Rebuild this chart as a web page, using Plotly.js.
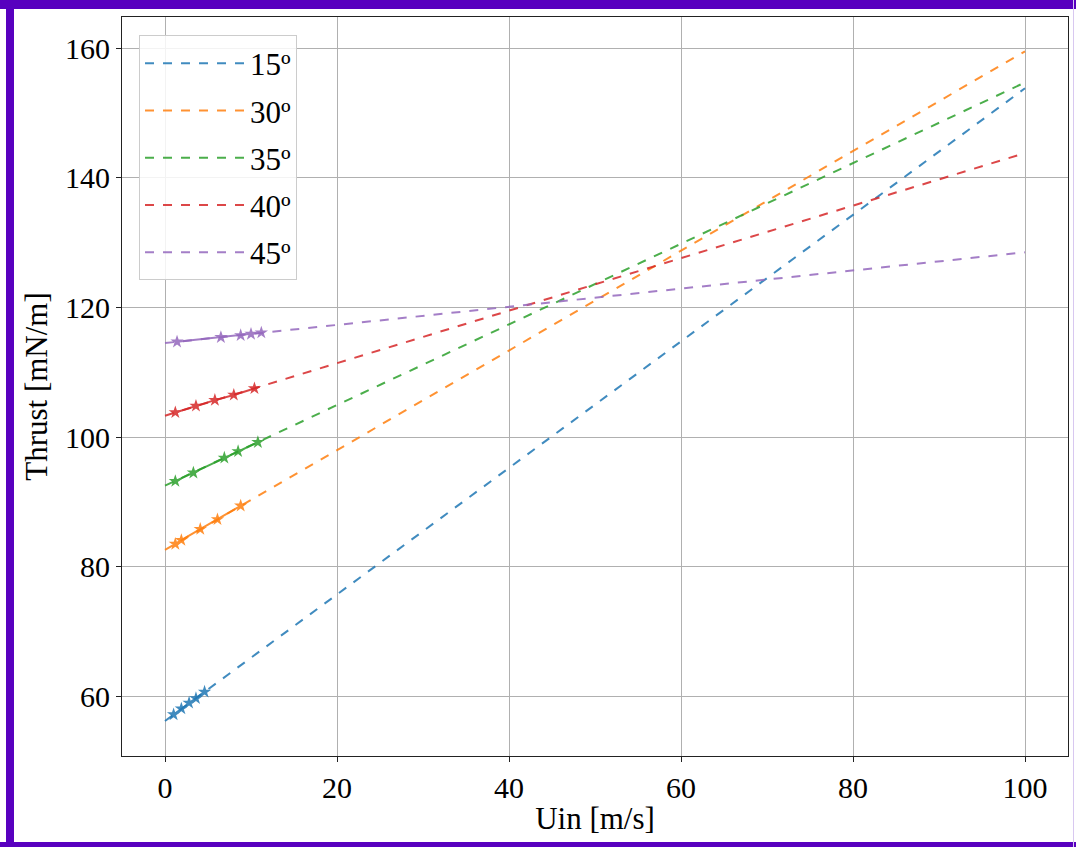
<!DOCTYPE html>
<html>
<head>
<meta charset="utf-8">
<script src="https://cdn.plot.ly/plotly-3.0.1.min.js"></script>
<style>
html,body{margin:0;padding:0;background:#fff;}
#wrap{position:relative;width:1076px;height:847px;overflow:hidden;}
#chart{position:absolute;left:0;top:0;width:1076px;height:847px;}
.bd{position:absolute;background:#5800bf;pointer-events:none;}
</style>
</head>
<body>
<div id="wrap">
<div id="chart"></div>
<div class="bd" style="left:0;top:0;width:1076px;height:9px;"></div>
<div class="bd" style="left:6px;top:0;width:8px;height:847px;"></div>
<div class="bd" style="left:0;top:842px;width:1076px;height:5px;"></div>
<div class="bd" style="left:1073px;top:0;width:1px;height:847px;background:#d8c8f0;"></div>
</div>
<script>
// Legend labels and colours
const labels = ["15º", "30º", "35º", "40º", "45º"];
const colors = ["#1f77b4", "#ff7f0e", "#2ca02c", "#d62728", "#9467bd"];

// Dashed trend lines (Uin, Thrust)
const fitX = [0, 100];
const fit15 = [56.2, 153.8];
const fit30 = [82.6, 159.5];
const fit35 = [92.5, 154.7];
const fit40 = [103.3, 143.8];
const fit45 = [114.5, 128.5];

// Measured points (star markers, solid)
const x15 = [1.0, 1.9, 2.8, 3.6, 4.6];
const y15 = [57.2, 58.1, 59.0, 59.7, 60.7];
const x30 = [1.2, 1.9, 4.1, 6.1, 8.8];
const y30 = [83.5, 84.1, 85.8, 87.3, 89.4];
const x35 = [1.2, 3.3, 6.9, 8.5, 10.8];
const y35 = [93.2, 94.5, 96.8, 97.8, 99.2];
const x40 = [1.2, 3.6, 5.8, 8.0, 10.4];
const y40 = [103.8, 104.8, 105.7, 106.5, 107.5];
const x45 = [1.4, 6.5, 8.8, 10.0, 11.2];
const y45 = [114.7, 115.4, 115.7, 115.9, 116.1];

const fits = [fit15, fit30, fit35, fit40, fit45];
const mx = [x15, x30, x35, x40, x45];
const my = [y15, y30, y35, y40, y45];

const traces = [];
for (let i = 0; i < 5; i++) {
  traces.push({
    x: fitX, y: fits[i], mode: "lines", name: labels[i],
    legendgroup: "g" + i,
    line: {color: colors[i], dash: "dash", width: 2},
    opacity: 0.85, hoverinfo: "skip"
  });
}
for (let i = 0; i < 5; i++) {
  traces.push({
    x: mx[i], y: my[i], mode: "lines+markers", showlegend: false,
    line: {color: colors[i], width: 2},
    marker: {symbol: "star", size: 10, color: colors[i]},
    opacity: 0.85, hoverinfo: "skip"
  });
}

const fam = "'Liberation Serif', 'Times New Roman', serif";
const font = {family: fam, color: "#000"};
const layout = {
  width: 1076, height: 847,
  margin: {l: 122, r: 8, t: 17, b: 91},
  paper_bgcolor: "#fff", plot_bgcolor: "#fff",
  font: Object.assign({}, font, {size: 30}),
  showlegend: true,
  legend: {
    x: 0.018, y: 0.975, xanchor: "left", yanchor: "top",
    bgcolor: "rgba(255,255,255,0.85)", bordercolor: "#cccccc", borderwidth: 1,
    font: Object.assign({}, font, {size: 31}),
    itemwidth: 100, tracegroupgap: 4
  },
  xaxis: {
    range: [-5, 105], tickvals: [0, 20, 40, 60, 80, 100],
    showgrid: true, gridcolor: "#b0b0b0", gridwidth: 1, zeroline: false,
    showline: true, mirror: true, linecolor: "#222", linewidth: 1,
    ticks: "outside", ticklen: 5, tickcolor: "#222",
    tickfont: Object.assign({}, font, {size: 30}),
    title: {text: "Uin [m/s]", font: Object.assign({}, font, {size: 31}), standoff: 4}
  },
  yaxis: {
    range: [50.8, 164.8], tickvals: [60, 80, 100, 120, 140, 160],
    showgrid: true, gridcolor: "#b0b0b0", gridwidth: 1, zeroline: false,
    showline: true, mirror: true, linecolor: "#222", linewidth: 1,
    ticks: "outside", ticklen: 5, tickcolor: "#222",
    tickfont: Object.assign({}, font, {size: 30}),
    title: {text: "Thrust [mN/m]", font: Object.assign({}, font, {size: 31}), standoff: 8}
  }
};
Plotly.newPlot("chart", traces, layout, {staticPlot: true, displayModeBar: false});
</script>
</body>
</html>
